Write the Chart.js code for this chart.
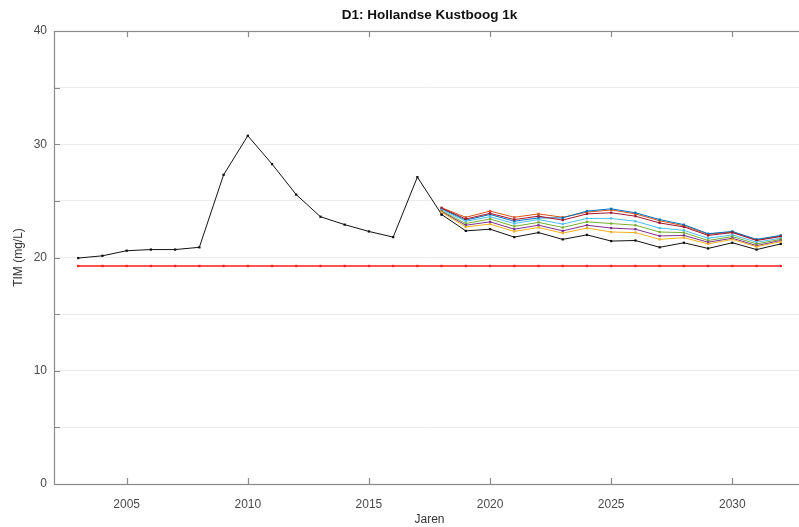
<!DOCTYPE html>
<html>
<head>
<meta charset="utf-8">
<script src="https://cdn.jsdelivr.net/npm/chart.js@4.4.3/dist/chart.umd.min.js"></script>
<style>
  html, body { margin:0; padding:0; background:#fff; overflow:hidden; }
  #wrap { width:812px; height:527px; }
</style>
</head>
<body>
<div id="wrap"><canvas id="c" width="812" height="527"></canvas></div>
<script>
// data
const histYears = [2003,2004,2005,2006,2007,2008,2009,2010,2011,2012,2013,2014,2015,2016,2017,2018];
const histTIM   = [19.95,20.15,20.6,20.7,20.7,20.9,27.3,30.75,28.25,25.55,23.6,22.9,22.3,21.8,27.1,23.8];

const scenYears = [2018,2019,2020,2021,2022,2023,2024,2025,2026,2027,2028,2029,2030,2031,2032];
const scenOrange = [24.4,23.55,24.1,23.55,23.85,23.55,24.0,24.2,23.85,23.25,22.8,22.05,22.25,21.55,21.9];
const scenBlue   = [24.3,23.3,23.8,23.2,23.5,23.5,24.1,24.3,23.95,23.35,22.9,22.1,22.3,21.6,21.95];
const scenDarkRed= [24.35,23.4,23.9,23.35,23.65,23.3,23.85,23.95,23.65,23.05,22.7,21.95,22.2,21.5,21.85];
const scenCyan   = [24.2,23.2,23.6,23.0,23.35,22.95,23.45,23.45,23.2,22.6,22.4,21.7,22.0,21.35,21.7];
const scenGreen  = [24.1,23.0,23.4,22.75,23.1,22.65,23.15,23.0,22.85,22.25,22.2,21.5,21.85,21.2,21.6];
const scenPurple = [24.05,22.85,23.15,22.5,22.85,22.35,22.85,22.6,22.5,21.9,21.95,21.35,21.7,21.05,21.5];
const scenYellow = [24.0,22.7,22.95,22.3,22.65,22.15,22.6,22.25,22.2,21.6,21.75,21.2,21.6,20.95,21.4];
const scenBlack  = [23.8,22.35,22.5,21.8,22.2,21.6,22.0,21.45,21.5,20.9,21.3,20.8,21.3,20.7,21.2];

const normYears = [2003,2004,2005,2006,2007,2008,2009,2010,2011,2012,2013,2014,2015,2016,2017,2018,2019,2020,2021,2022,2023,2024,2025,2026,2027,2028,2029,2030,2031,2032];
const normTIM   = [19.25,19.25,19.25,19.25,19.25,19.25,19.25,19.25,19.25,19.25,19.25,19.25,19.25,19.25,19.25,
                   19.25,19.25,19.25,19.25,19.25,19.25,19.25,19.25,19.25,19.25,19.25,19.25,19.25,19.25,19.25];

const xTicks = [2005,2010,2015,2020,2025,2030];
const yTicks = [0,5,10,15,20,25,30,35,40];

const toXY = (xs, ys) => xs.map((x,i) => ({x, y: ys[i]}));

function ds(label, xs, ys, color, width){
  return {
    label, data: toXY(xs, ys),
    borderColor: color, backgroundColor: color,
    borderWidth: width || 1, pointStyle: 'rect',
    pointRadius: 1.6, pointBorderWidth: 0, tension: 0
  };
}

// axes box + inward tick marks, like the matlab figure
const boxPlugin = {
  id: 'box',
  afterDraw(chart){
    const {ctx, chartArea: a, scales: {x, y}} = chart;
    ctx.save();
    ctx.strokeStyle = '#8a8a8a';
    ctx.lineWidth = 1.2;
    ctx.strokeRect(a.left + 0.5, a.top + 0.5, a.right - a.left, a.bottom - a.top);
    ctx.beginPath();
    xTicks.forEach(v => {
      const px = Math.round(x.getPixelForValue(v)) + 0.5;
      ctx.moveTo(px, a.bottom); ctx.lineTo(px, a.bottom - 6);
      ctx.moveTo(px, a.top); ctx.lineTo(px, a.top + 6);
    });
    yTicks.forEach(v => {
      const py = Math.round(y.getPixelForValue(v)) + 0.5;
      ctx.moveTo(a.left, py); ctx.lineTo(a.left + 6, py);
    });
    ctx.stroke();
    ctx.restore();
  }
};

const font = { family: '"Liberation Sans", Arial, sans-serif', size: 12 };

new Chart(document.getElementById('c').getContext('2d'), {
  type: 'line',
  data: {
    datasets: [
      ds('norm', normYears, normTIM, '#ff1a1a', 1.3),
      ds('scen7', scenYears, scenYellow, '#EDB120'),
      ds('scen6', scenYears, scenPurple, '#7E2F8E'),
      ds('scen5', scenYears, scenGreen, '#77AC30'),
      ds('scen4', scenYears, scenCyan, '#4DBEEE'),
      ds('scen3', scenYears, scenDarkRed, '#A2142F'),
      ds('scen2', scenYears, scenBlue, '#0072BD'),
      ds('scen1', scenYears, scenOrange, '#D95319'),
      ds('scen0', scenYears, scenBlack, '#111111'),
      ds('hist', histYears, histTIM, '#111111')
    ]
  },
  options: {
    responsive: false,
    animation: false,
    layout: { padding: { top: 0, right: 7, left: 0, bottom: 0 } },
    plugins: {
      legend: { display: false },
      tooltip: { enabled: false },
      title: {
        display: true,
        fullSize: false,
        text: 'D1: Hollandse Kustboog 1k',
        color: '#111',
        font: { family: font.family, size: 13.5, weight: 'bold' },
        padding: { top: 7, bottom: 7.8 }
      }
    },
    scales: {
      x: {
        type: 'linear', min: 2002, max: 2033,
        afterBuildTicks: s => { s.ticks = xTicks.map(v => ({ value: v })); },
        afterFit: s => { s.height = 43; },
        grid: { display: false },
        border: { display: false },
        ticks: { color: '#4a4a4a', font, padding: 5, maxRotation: 0, callback: v => String(v) },
        title: { display: true, text: 'Jaren', color: '#333', font, padding: 0 }
      },
      y: {
        min: 0, max: 40,
        afterBuildTicks: s => { s.ticks = yTicks.map(v => ({ value: v })); },
        afterFit: s => { s.width = 54; },
        grid: { color: '#ececec', lineWidth: 1, drawTicks: false },
        border: { display: false },
        ticks: { color: '#4a4a4a', font, padding: 7, callback: v => (v % 10 === 0 ? String(v) : '') },
        title: { display: true, text: 'TIM (mg/L)', color: '#333', font, padding: 11 }
      }
    }
  },
  plugins: [boxPlugin]
});
</script>
</body>
</html>
